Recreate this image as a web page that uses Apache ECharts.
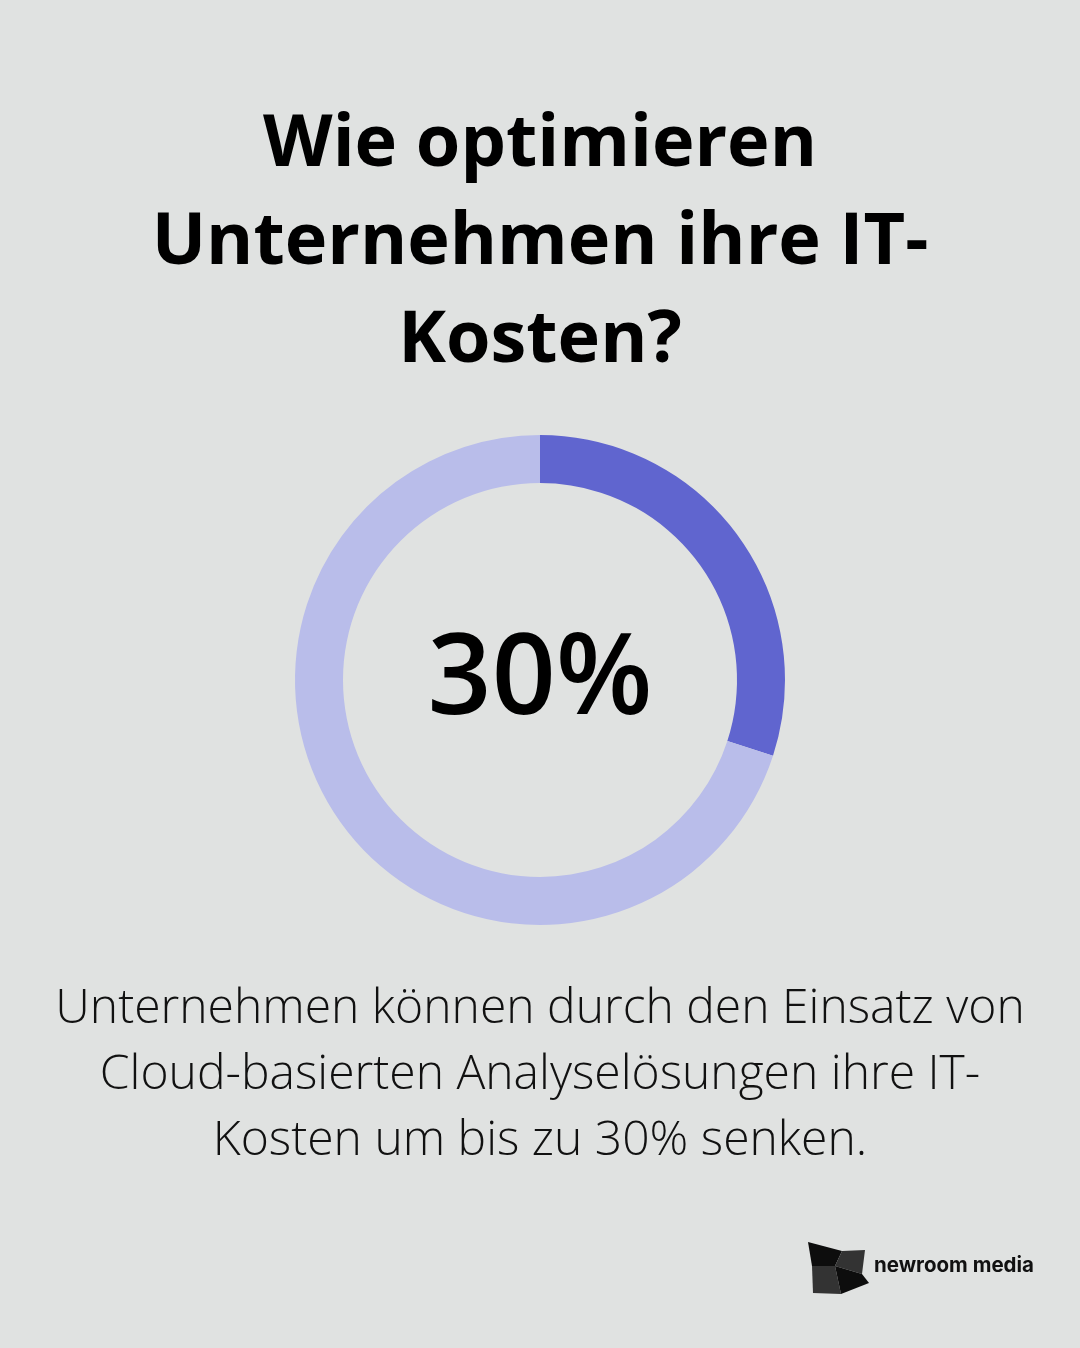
<!DOCTYPE html>
<html><head><meta charset="utf-8">
<script src="https://cdn.jsdelivr.net/npm/echarts@6/dist/echarts.min.js"></script>
<style>html,body{margin:0;padding:0;background:#E0E2E1;}#c{width:1080px;height:1348px;}</style>
</head><body><div id="c"></div>
<script>
const titleLines = ["Wie optimieren", "Unternehmen ihre IT-", "Kosten?"];
const bodyLines = ["Unternehmen können durch den Einsatz von", "Cloud-basierten Analyselösungen ihre IT-", "Kosten um bis zu 30% senken."];
const sliceNames = ["Senkung", "Rest"];
const sliceValues = [30, 70];
const centerLabel = "30%";
const brand = "newroom media";

const chart = echarts.init(document.getElementById('c'), null, {renderer: 'canvas'});
chart.setOption({
  backgroundColor: '#E0E2E1',
  animation: false,
  title: [{
    text: titleLines.join('\n'),
    left: 'center', top: 91,
    textStyle: {fontFamily: 'Open Sans', fontWeight: 'bold', fontSize: 72, lineHeight: 98, color: '#000'}
  }, {
    text: bodyLines.join('\n'),
    left: 'center', top: 971,
    textStyle: {fontFamily: 'Open Sans', fontWeight: 300, fontSize: 48, lineHeight: 66, color: '#111'}
  }],
  series: [{
    type: 'pie',
    center: [540, 680],
    radius: [197, 245],
    startAngle: 90,
    clockwise: true,
    silent: true,
    label: {show: false},
    labelLine: {show: false},
    data: sliceNames.map((n, i) => ({name: n, value: sliceValues[i], itemStyle: {color: i === 0 ? '#6065CF' : '#B9BDEA'}}))
  }],
  graphic: [
    {type: 'text', left: 'center', top: 680 - 54, style: {text: centerLabel, fontFamily: 'Open Sans', fontWeight: 600, fontSize: 112, fill: '#000', textAlign: 'center'}},
    {type: 'polygon', shape: {points: [[808,1242],[842,1251],[835,1266],[812,1266]]}, style: {fill: '#0d0d0d'}},
    {type: 'polygon', shape: {points: [[842,1251],[865,1250],[862,1274],[835,1266]]}, style: {fill: '#333'}},
    {type: 'polygon', shape: {points: [[812,1266],[835,1266],[841,1294],[813,1293]]}, style: {fill: '#333'}},
    {type: 'polygon', shape: {points: [[835,1266],[862,1274],[869,1283],[841,1294]]}, style: {fill: '#0d0d0d'}},
    {type: 'text', x: 874, y: 1266, style: {text: brand, fontFamily: 'Inter', fontWeight: 'bold', fontSize: 20.5, fill: '#111', textVerticalAlign: 'middle'}}
  ]
});
</script></body></html>
